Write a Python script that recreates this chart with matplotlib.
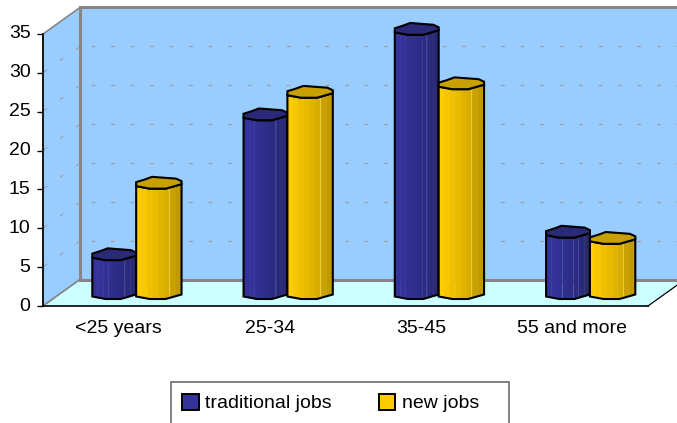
import numpy as np
import matplotlib
matplotlib.use("Agg")
import matplotlib.pyplot as plt
from matplotlib.patches import Polygon, Patch, Rectangle
from matplotlib.transforms import Affine2D, IdentityTransform

plt.rcParams['font.family'] = ['Liberation Sans', 'DejaVu Sans']

categories = ["<25 years", "25-34", "35-45", "55 and more"]
traditional_jobs = [5.0, 23.0, 34.0, 7.9]
new_jobs = [14.2, 25.9, 27.0, 7.1]
y_ticks = [0, 5, 10, 15, 20, 25, 30, 35]

BLUE_STRIPS = ['#333399', '#333399', '#313194', '#2f2f8e', '#2d2d88', '#2b2b82', '#2a2a7a', '#2a2a74']
YELLOW_STRIPS = ['#ffcc00', '#f9c700', '#f0c000', '#e8ba00', '#e0b300', '#d8ad00', '#c9a100', '#c09a00']
BLUE_TOP = '#2a2a78'
YELLOW_TOP = '#c8a000'
BLUE_FACET = '#4a4aa0'
YELLOW_FACET = '#f2cf40'

# outline of the faceted column, px relative to the front-left corner
FRONT_U = [0.0, 0.3, 0.65, 1.0]
FRONT_V = [2.5, 0.0, 0.0, 4.5]
BACK_U = [1.0, 0.88, 0.35, 0.18, 0.0]
BACK_V = [7.5, 10.0, 11.8, 9.0, 6.5]
FACET_U = 0.72

BACK_DX, BACK_DY = 37, 26.5
BAR_DY = 7
BLUE_W = 0.29
YELLOW_W = 0.3
BAR_SHIFT = 0.116

fig = plt.figure(figsize=(6.77, 4.23), dpi=100)
ax = fig.add_axes([43 / 677, (423 - 306) / 423, 605 / 677, 272 / 423])
ax.set_xlim(0, 4)
ax.set_ylim(0, 35)
ax.patch.set_visible(False)


def pt(x, v, dx=0, dy=0):
    px, py = ax.transData.transform((x, v))
    return (px + dx, py + dy)


def poly(points, **kw):
    kw.setdefault('clip_on', False)
    ax.add_patch(Polygon(points, closed=True, transform=IdentityTransform(), **kw))


def seg(a, b, **kw):
    ax.plot(*zip(a, b), transform=IdentityTransform(), clip_on=False, **kw)


# walls and floor
poly([pt(0, 0), pt(0, 35), pt(0, 35, BACK_DX, BACK_DY), pt(0, 0, BACK_DX, BACK_DY)],
     facecolor='#99ccff', edgecolor='#868686', linewidth=1.2, zorder=1)
poly([pt(0, 0, BACK_DX, BACK_DY), pt(0, 35, BACK_DX, BACK_DY), pt(4, 35, BACK_DX, BACK_DY), pt(4, 0, BACK_DX, BACK_DY)],
     facecolor='#99ccff', edgecolor='#868686', linewidth=2.2, zorder=1)
poly([pt(0, 0), pt(4, 0), pt(4, 0, BACK_DX, BACK_DY), pt(0, 0, BACK_DX, BACK_DY)],
     facecolor='#ccffff', edgecolor='none', zorder=1.5)
seg(pt(0, 0), pt(0, 0, BACK_DX, BACK_DY), color='#868686', lw=1.2, zorder=1.6)
seg(pt(4, 0), pt(4, 0, BACK_DX, BACK_DY), color='black', lw=0.9, zorder=1.6)
seg(pt(0, 0, BACK_DX, BACK_DY), pt(4, 0, BACK_DX, BACK_DY), color='#868686', lw=2.2, zorder=1.6)

# dashed grid on the back wall and the side wall
for t in y_ticks[1:-1]:
    seg(pt(0, t, BACK_DX + 11, BACK_DY), pt(4, t, BACK_DX, BACK_DY),
        color='#a0a0a0', lw=0.9, dashes=(3.2, 12.4), zorder=1.7)
    seg(pt(0, t, 1, 1), pt(0, t, BACK_DX - 1, BACK_DY - 1),
        color='#a0a0a0', lw=0.8, dashes=(3.6, 14), zorder=1.7)


def draw_column(x_left, width, value, strips, top, facet, z):
    x0 = pt(x_left, value)[0]
    w = pt(x_left + width, value)[0] - x0
    y_top = pt(x_left, value)[1] + BAR_DY
    y_bot = pt(x_left, 0)[1] + BAR_DY
    edges = np.linspace(0, 1, len(strips) + 1)
    for i, c in enumerate(strips):
        us = np.array([edges[i], edges[i + 1]])
        vs = np.interp(us, FRONT_U, FRONT_V)
        poly([(x0 + us[0] * w, y_bot + vs[0]), (x0 + us[1] * w, y_bot + vs[1]),
              (x0 + us[1] * w, y_top + vs[1]), (x0 + us[0] * w, y_top + vs[0])],
             facecolor=c, edgecolor=c, linewidth=0.3, zorder=z)
    fv = np.interp(FACET_U, FRONT_U, FRONT_V)
    seg((x0 + FACET_U * w, y_bot + fv), (x0 + FACET_U * w, y_top + fv), color=facet, lw=0.6, zorder=z + 0.05)
    outline = [(x0 + u * w, y_bot + v) for u, v in zip(FRONT_U, FRONT_V)]
    outline += [(x0 + u * w, y_top + v) for u, v in zip(FRONT_U[::-1], FRONT_V[::-1])]
    poly(outline, facecolor='none', edgecolor='black', linewidth=1.5, zorder=z + 0.1)
    cap = [(x0 + u * w, y_top + v) for u, v in zip(FRONT_U + BACK_U, FRONT_V + BACK_V)]
    poly(cap, facecolor=top, edgecolor='black', linewidth=1.5, zorder=z + 0.1)


for i in range(len(categories)):
    center = i + 0.5
    draw_column(center + BAR_SHIFT - BLUE_W, BLUE_W, traditional_jobs[i], BLUE_STRIPS, BLUE_TOP, BLUE_FACET, 2 + i)
    draw_column(center + BAR_SHIFT, YELLOW_W, new_jobs[i], YELLOW_STRIPS, YELLOW_TOP, YELLOW_FACET, 2.5 + i)

# axes
for s in ['top', 'right']:
    ax.spines[s].set_visible(False)
ax.spines['left'].set_linewidth(1.2)
ax.spines['bottom'].set_linewidth(1.2)
ax.spines['left'].set_zorder(9)
ax.spines['bottom'].set_zorder(9)
ax.set_yticks(y_ticks)
ax.set_xticks(np.arange(len(categories)) + 0.5)
ax.set_xticklabels(categories)
ax.tick_params(axis='y', length=4, width=1, pad=5, labelsize=14)
ax.tick_params(axis='x', length=0, pad=10, labelsize=14)
for lab in ax.get_yticklabels():
    lab.set_transform(lab.get_transform() + Affine2D().translate(0, 2))

# legend box runs to the bottom edge of the picture
fig.add_artist(Rectangle((171 / 677, -2 / 423), 338 / 677, (423 - 382 + 2) / 423, transform=fig.transFigure,
                         facecolor='white', edgecolor='#606060', linewidth=1.1))
handles = [Patch(facecolor='#333399', edgecolor='black', linewidth=1.4, label='traditional jobs'),
           Patch(facecolor='#ffcc00', edgecolor='black', linewidth=1.4, label='new jobs')]
leg = fig.legend(handles=handles, ncol=2, loc='upper left',
                 bbox_to_anchor=(182 / 677, (423 - 394) / 423), borderaxespad=0, borderpad=0,
                 frameon=False, fontsize=14, handlelength=0.85, handleheight=0.85,
                 handletextpad=0.35, columnspacing=2.4)
leg.set_zorder(5)

fig.savefig("out.png", dpi=100)
